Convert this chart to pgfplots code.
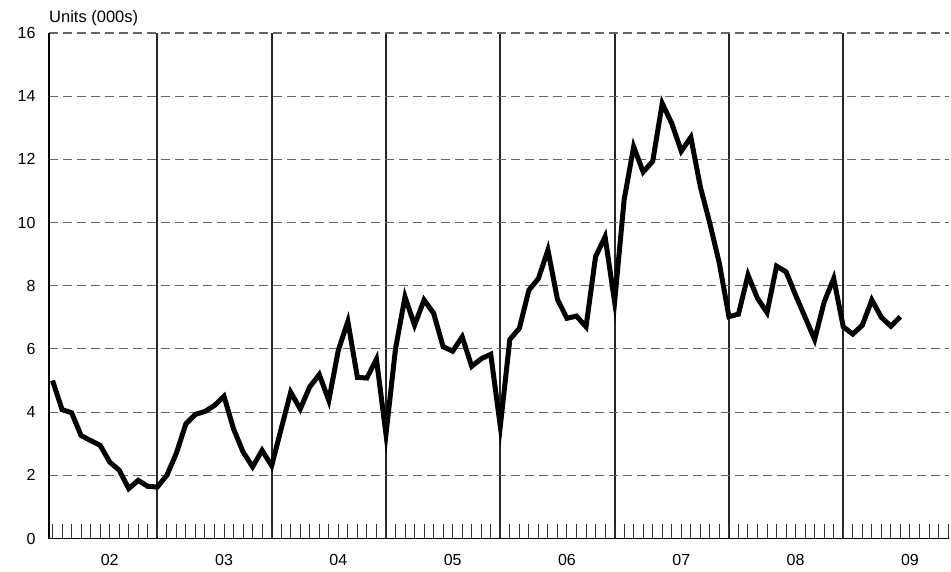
\documentclass[border=0pt]{standalone}
\usepackage{fontspec}
\setmainfont{Liberation Sans}
\usepackage{pgfplots}
\pgfplotsset{compat=1.18}
\begin{document}
\begin{tikzpicture}
\useasboundingbox (0,0) rectangle (951bp,572bp);
\begin{axis}[
  at={(49bp,33.5bp)}, anchor=south west,
  scale only axis, width=900bp, height=505.5bp,
  xmin=-0.37, xmax=94.1, ymin=0, ymax=16,
  axis x line*=bottom, axis y line*=left,
  axis line style={black, line width=1.5bp},
  /pgf/number format/assume math mode=true,
  ytick={0,2,...,16},
  ymajorgrids,
  major y grid style={draw=black!60, line width=1.1bp, dash pattern=on 9bp off 5bp},
  ytick style={draw=none},
  yticklabel style={font=\fontsize{16bp}{19bp}\selectfont, xshift=-10bp},
  xtick={11,23,35,47,59,71,83},
  xticklabels={},
  xmajorgrids,
  major x grid style={draw=black!85, line width=1.8bp, solid},
  minor xtick={0,1,...,94},
  xtick align=inside,
  major tick length=0pt,
  minor tick length=14bp,
  minor x tick style={draw=black!80, line width=1bp},
  extra x ticks={6,18,30,42,54,66,78,90},
  extra x tick labels={02,03,04,05,06,07,08,09},
  extra x tick style={grid=none, major tick length=0pt, xticklabel style={font=\fontsize{16bp}{19bp}\selectfont, yshift=-12bp}},
  clip=false,
]
\addplot[black, line width=5bp, line join=miter, mark=none] table {
x y
0 5.0
1 4.08
2 3.98
3 3.26
4 3.1
5 2.95
6 2.42
7 2.16
8 1.58
9 1.84
10 1.65
11 1.63
12 2.0
13 2.7
14 3.63
15 3.93
16 4.02
17 4.21
18 4.5
19 3.47
20 2.74
21 2.27
22 2.79
23 2.3
24 3.47
25 4.63
26 4.1
27 4.8
28 5.19
29 4.37
30 5.96
31 6.87
32 5.1
33 5.08
34 5.68
35 3.3
36 6.0
37 7.65
38 6.75
39 7.55
40 7.13
41 6.07
42 5.93
43 6.38
44 5.45
45 5.69
46 5.83
47 3.55
48 6.3
49 6.65
50 7.86
51 8.23
52 9.13
53 7.57
54 6.97
55 7.04
56 6.7
57 8.92
58 9.55
59 7.49
60 10.72
61 12.4
62 11.6
63 11.94
64 13.77
65 13.14
66 12.26
67 12.7
68 11.13
69 9.97
70 8.7
71 7.02
72 7.1
73 8.34
74 7.6
75 7.15
76 8.62
77 8.44
78 7.7
79 7.0
80 6.3
81 7.49
82 8.23
83 6.7
84 6.47
85 6.75
86 7.55
87 7.0
88 6.72
89 7.02
};
\node[anchor=base west, inner sep=0pt, font=\fontsize{16.5bp}{19bp}\selectfont] at (rel axis cs:0,1) [yshift=10bp] {Units (000s)};
\end{axis}
\end{tikzpicture}
\end{document}
